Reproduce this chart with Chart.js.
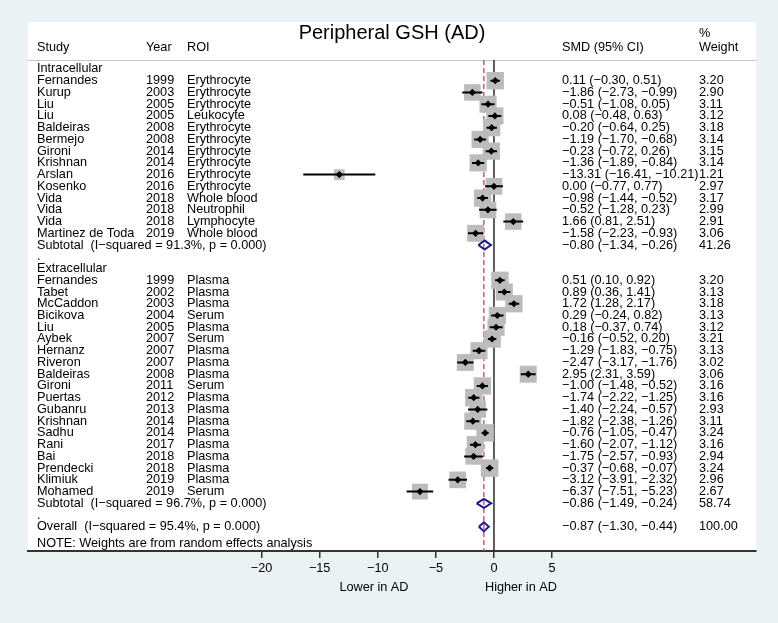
<!DOCTYPE html>
<html>
<head>
<meta charset="utf-8">
<script src="https://cdn.jsdelivr.net/npm/chart.js@4.4.1/dist/chart.umd.min.js"></script>
<style>
html,body{margin:0;padding:0;background:#eaf2f3;}
canvas{display:block;}
</style>
</head>
<body>
<canvas id="c" width="778" height="623"></canvas>
<script>
// ---------------- DATA ----------------
const chartTitle = "Peripheral GSH (AD)";
const xTickValues = [-20, -15, -10, -5, 0, 5];
const favoursLabels = ["Lower in AD", "Higher in AD"];

const intraStudies = ["Fernandes","Kurup","Liu","Liu","Baldeiras","Bermejo","Gironi","Krishnan","Arslan","Kosenko","Vida","Vida","Vida","Martinez de Toda"];
const intraYears   = [1999,2003,2005,2005,2008,2008,2014,2014,2016,2016,2018,2018,2018,2019];
const intraROI     = ["Erythrocyte","Erythrocyte","Erythrocyte","Leukocyte","Erythrocyte","Erythrocyte","Erythrocyte","Erythrocyte","Erythrocyte","Erythrocyte","Whole blood","Neutrophil","Lymphocyte","Whole blood"];
const intraSMD     = [0.11,-1.86,-0.51,0.08,-0.20,-1.19,-0.23,-1.36,-13.31,0.00,-0.98,-0.52,1.66,-1.58];
const intraLo      = [-0.30,-2.73,-1.08,-0.48,-0.64,-1.70,-0.72,-1.89,-16.41,-0.77,-1.44,-1.28,0.81,-2.23];
const intraHi      = [0.51,-0.99,0.05,0.63,0.25,-0.68,0.26,-0.84,-10.21,0.77,-0.52,0.23,2.51,-0.93];
const intraW       = [3.20,2.90,3.11,3.12,3.18,3.14,3.15,3.14,1.21,2.97,3.17,2.99,2.91,3.06];

const extraStudies = ["Fernandes","Tabet","McCaddon","Bicikova","Liu","Aybek","Hernanz","Riveron","Baldeiras","Gironi","Puertas","Gubanru","Krishnan","Sadhu","Rani","Bai","Prendecki","Klimiuk","Mohamed"];
const extraYears   = [1999,2002,2003,2004,2005,2007,2007,2007,2008,2011,2012,2013,2014,2014,2017,2018,2018,2019,2019];
const extraROI     = ["Plasma","Plasma","Plasma","Serum","Plasma","Serum","Plasma","Plasma","Plasma","Serum","Plasma","Plasma","Plasma","Plasma","Plasma","Plasma","Plasma","Plasma","Serum"];
const extraSMD     = [0.51,0.89,1.72,0.29,0.18,-0.16,-1.29,-2.47,2.95,-1.00,-1.74,-1.40,-1.82,-0.76,-1.60,-1.75,-0.37,-3.12,-6.37];
const extraLo      = [0.10,0.36,1.28,-0.24,-0.37,-0.52,-1.83,-3.17,2.31,-1.48,-2.22,-2.24,-2.38,-1.05,-2.07,-2.57,-0.68,-3.91,-7.51];
const extraHi      = [0.92,1.41,2.17,0.82,0.74,0.20,-0.75,-1.76,3.59,-0.52,-1.25,-0.57,-1.26,-0.47,-1.12,-0.93,-0.07,-2.32,-5.23];
const extraW       = [3.20,3.13,3.18,3.13,3.12,3.21,3.13,3.02,3.06,3.16,3.16,2.93,3.11,3.24,3.16,2.94,3.24,2.96,2.67];

const groupNames   = ["Intracellular","Extracellular"];
const subtotalI2   = [91.3, 96.7];
const subtotalSMD  = [-0.80, -0.86];
const subtotalLo   = [-1.34, -1.49];
const subtotalHi   = [-0.26, -0.24];
const subtotalW    = [41.26, 58.74];
const overallI2    = 95.4;
const overallSMD   = -0.87;
const overallLo    = -1.30;
const overallHi    = -0.44;
const overallW     = 100.00;
const noteText     = "NOTE: Weights are from random effects analysis";

// ---------------- BUILD ROWS ----------------
const fmt = v => (v < 0 ? "\u2212" : "") + Math.abs(v).toFixed(2);
const ciText = (e,l,h) => fmt(e) + " (" + fmt(l) + ", " + fmt(h) + ")";

const studyRows = [];   // {row, est, lo, hi, w}
const diamondRows = []; // {row, est, lo, hi}
const textRows = [];    // {row, study, year, roi, smd, weight}

let r = 0;
const groups = [
  {s:intraStudies,y:intraYears,roi:intraROI,e:intraSMD,l:intraLo,h:intraHi,w:intraW},
  {s:extraStudies,y:extraYears,roi:extraROI,e:extraSMD,l:extraLo,h:extraHi,w:extraW}
];
groups.forEach((g, gi) => {
  textRows.push({row:r, study:groupNames[gi]}); r++;
  g.s.forEach((name, k) => {
    studyRows.push({row:r, est:g.e[k], lo:g.l[k], hi:g.h[k], w:g.w[k]});
    textRows.push({row:r, study:name, year:String(g.y[k]), roi:g.roi[k], smd:ciText(g.e[k],g.l[k],g.h[k]), weight:g.w[k].toFixed(2)});
    r++;
  });
  diamondRows.push({row:r, est:subtotalSMD[gi], lo:subtotalLo[gi], hi:subtotalHi[gi]});
  textRows.push({row:r, study:"Subtotal  (I\u2212squared = " + subtotalI2[gi].toFixed(1) + "%, p = 0.000)", smd:ciText(subtotalSMD[gi],subtotalLo[gi],subtotalHi[gi]), weight:subtotalW[gi].toFixed(2)});
  r++;
  textRows.push({row:r, study:"."}); r++;
});
diamondRows.push({row:r, est:overallSMD, lo:overallLo, hi:overallHi});
textRows.push({row:r, study:"Overall  (I\u2212squared = " + overallI2.toFixed(1) + "%, p = 0.000)", smd:ciText(overallSMD,overallLo,overallHi), weight:overallW.toFixed(2)});
r++;
const noteRow = r + 0.45;
const headerLineRow = -0.77;
const yMin = -4.0, yMax = 41.06;

// datasets
const boxData = studyRows.map(s => ({x:s.est, y:s.row, w:s.w}));
const pointData = studyRows.map(s => ({x:s.est, y:s.row}));
const ciData = [];
studyRows.forEach(s => { ciData.push({x:s.lo,y:s.row},{x:s.hi,y:s.row},{x:null,y:null}); });
const dh = 0.38;
const diaData = [];
diamondRows.forEach(d => {
  diaData.push({x:d.lo,y:d.row},{x:d.est,y:d.row-dh},{x:d.hi,y:d.row},{x:d.est,y:d.row+dh},{x:d.lo,y:d.row},{x:null,y:null});
});

const FONT = "'Liberation Sans', Arial, Helvetica, sans-serif";
const FS = 12.7;

const bgPlugin = {
  id:'bg',
  beforeDraw(chart){
    const {ctx, chartArea:a} = chart;
    ctx.save();
    ctx.fillStyle = '#eaf2f3';
    ctx.fillRect(0,0,chart.width,chart.height);
    ctx.fillStyle = '#ffffff';
    ctx.fillRect(a.left, a.top, a.right-a.left, a.bottom-a.top);
    // header separator
    const yS = chart.scales.y;
    const hy = Math.round(yS.getPixelForValue(headerLineRow)) + 0.5;
    ctx.strokeStyle = '#c8c8c8';
    ctx.lineWidth = 1;
    ctx.beginPath(); ctx.moveTo(a.left, hy); ctx.lineTo(a.right, hy); ctx.stroke();
    ctx.restore();
  }
};

const textPlugin = {
  id:'texts',
  afterDraw(chart){
    const {ctx, chartArea:a} = chart;
    const yS = chart.scales.y, xS = chart.scales.x;
    const col = {study:37, year:146, roi:187, smd:562, weight:699};
    ctx.save();
    ctx.fillStyle = '#000';
    ctx.textBaseline = 'middle';
    ctx.textAlign = 'left';
    // title
    ctx.font = "20px " + FONT;
    ctx.textAlign = 'center';
    ctx.fillText(chartTitle, (a.left+a.right)/2, yS.getPixelForValue(-3.0));
    ctx.textAlign = 'left';
    ctx.font = FS + "px " + FONT;
    const hy = yS.getPixelForValue(-1.87);
    ctx.fillText("Study", col.study, hy);
    ctx.fillText("Year", col.year, hy);
    ctx.fillText("ROI", col.roi, hy);
    ctx.fillText("SMD (95% CI)", col.smd, hy);
    ctx.fillText("%", col.weight, yS.getPixelForValue(-3.05));
    ctx.fillText("Weight", col.weight, hy);
    textRows.forEach(t => {
      const y = yS.getPixelForValue(t.row);
      if (t.study) ctx.fillText(t.study, col.study, y);
      if (t.year) ctx.fillText(t.year, col.year, y);
      if (t.roi) ctx.fillText(t.roi, col.roi, y);
      if (t.smd) ctx.fillText(t.smd, col.smd, y);
      if (t.weight) ctx.fillText(t.weight, col.weight, y);
    });
    ctx.fillText(noteText, col.study, yS.getPixelForValue(noteRow));
    // favours labels
    ctx.textAlign = 'center';
    ctx.fillText(favoursLabels[0], xS.getPixelForValue(-10.33), 587);
    ctx.fillText(favoursLabels[1], xS.getPixelForValue(2.32), 587);
    ctx.restore();
  }
};

new Chart(document.getElementById('c'), {
  type:'scatter',
  data:{
    datasets:[
      {label:'pooled', data:diaData, showLine:true, borderColor:'#1c1c8e', borderWidth:2, pointRadius:0, fill:false, spanGaps:false, order:0},
      {label:'est', data:pointData, pointStyle:'rectRot', pointRadius:3.6, backgroundColor:'#000', borderColor:'#000', borderWidth:0, order:1},
      {label:'ci', data:ciData, showLine:true, borderColor:'#000', borderWidth:2, pointRadius:0, fill:false, spanGaps:false, order:2},
      {label:'box', data:boxData, pointStyle:'rect', backgroundColor:'#bcbcbc', borderWidth:0,
        pointRadius: ctx => { const w = ctx.raw && ctx.raw.w ? ctx.raw.w : 1; return 9.7*Math.sqrt(w)/Math.SQRT2; }, order:4},
      {label:'overallLine', data:[{x:overallSMD,y:headerLineRow},{x:overallSMD,y:yMax}], showLine:true, borderColor:'#b9495b', borderWidth:1.3, borderDash:[5,3], pointRadius:0, order:5},
      {label:'nullLine', data:[{x:0,y:headerLineRow},{x:0,y:yMax}], showLine:true, borderColor:'#1a1a1a', borderWidth:1.4, pointRadius:0, order:6}
    ]
  },
  options:{
    responsive:false,
    animation:false,
    devicePixelRatio:1,
    layout:{padding:{left:28, right:22, top:22, bottom:0}},
    plugins:{legend:{display:false}, tooltip:{enabled:false}},
    scales:{
      x:{
        type:'linear', min:-40.1, max:22.55,
        afterBuildTicks: s => { s.ticks = xTickValues.map(v => ({value:v})); },
        afterFit: s => { s.height = 72; },
        ticks:{ color:'#000', font:{family:FONT, size:FS}, padding:3, autoSkip:false, maxRotation:0,
          callback: v => (v < 0 ? "\u2212" : "") + Math.abs(v) },
        grid:{ drawOnChartArea:false, drawTicks:true, tickLength:7, color:'#333', lineWidth:1.5 },
        border:{ display:true, color:'#333', width:2 }
      },
      y:{
        type:'linear', min:yMin, max:yMax, reverse:true, display:false
      }
    }
  },
  plugins:[bgPlugin, textPlugin]
});
</script>
</body>
</html>
